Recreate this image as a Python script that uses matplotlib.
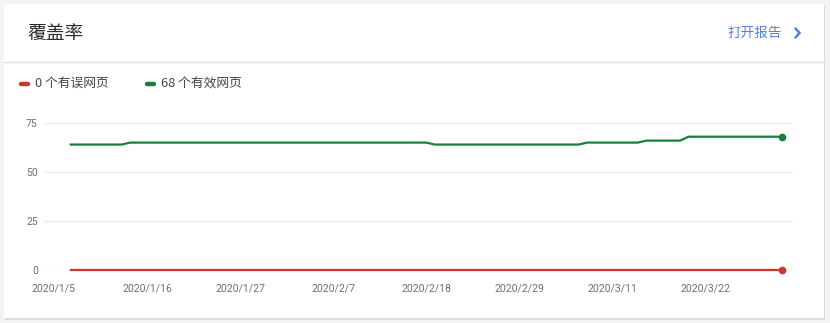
import matplotlib
matplotlib.use("Agg")
import matplotlib.pyplot as plt
import matplotlib.dates as mdates
from matplotlib.patches import Rectangle
from matplotlib.lines import Line2D
import datetime as dt

# ---- data ----
title = "覆盖率"
link_text = "打开报告"
legend_labels = ["0 个有误网页", "68 个有效网页"]
valid_dates = ["2020-01-07", "2020-01-13", "2020-01-14", "2020-02-18", "2020-02-19",
               "2020-03-07", "2020-03-08", "2020-03-14", "2020-03-15", "2020-03-19",
               "2020-03-20", "2020-03-31"]
valid_values = [64, 64, 65, 65, 64, 64, 65, 65, 66, 66, 68, 68]
error_dates = ["2020-01-07", "2020-03-31"]
error_values = [0, 0]
tick_dates = ["2020-01-05", "2020-01-16", "2020-01-27", "2020-02-07",
              "2020-02-18", "2020-02-29", "2020-03-11", "2020-03-22"]
tick_labels = ["2020/1/5", "2020/1/16", "2020/1/27", "2020/2/7",
               "2020/2/18", "2020/2/29", "2020/3/11", "2020/3/22"]
y_ticks = [0, 25, 50, 75]

RED = "#c9372c"
GREEN = "#18803c"
W, H = 830, 323

def to_dt(s):
    return dt.datetime.strptime(s, "%Y-%m-%d")

fig = plt.figure(figsize=(W / 100, H / 100), dpi=100, facecolor="#f3f3f3")

def fx(x):
    return x / W

def fy(y):
    return 1 - y / H

# card
fig.patches.append(Rectangle((fx(5), fy(320)), (825 - 5) / W, (320 - 5) / H,
                             transform=fig.transFigure, facecolor="#dcdcdc",
                             edgecolor="none", zorder=-3))
fig.patches.append(Rectangle((fx(4), fy(318)), (824 - 4) / W, (318 - 4) / H,
                             transform=fig.transFigure, facecolor="white",
                             edgecolor="none", zorder=-2))
# header separator
fig.lines.append(Line2D([fx(4), fx(824)], [fy(61.5), fy(61.5)], transform=fig.transFigure,
                        color="#dedede", lw=1.0, zorder=-1))

cjk = ["Noto Sans CJK SC", "DejaVu Sans"]
fig.text(fx(27), fy(33), title, family=cjk, fontsize=13.5, color="#2a2a2a",
         va="center", ha="left")
fig.text(fx(727), fy(33), link_text, family=cjk, fontsize=9.8, color="#4f82d8",
         va="center", ha="left")
# chevron
fig.lines.append(Line2D([fx(795.5), fx(799.5), fx(795.5)], [fy(28.5), fy(33), fy(37.5)],
                        transform=fig.transFigure, color="#4f82d8", lw=1.8,
                        solid_capstyle="round", solid_joinstyle="miter"))

# legend
for (x0, col, lab) in [(19, RED, legend_labels[0]), (145, GREEN, legend_labels[1])]:
    fig.lines.append(Line2D([fx(x0 + 1.5), fx(x0 + 8.5)], [fy(84), fy(84)],
                            transform=fig.transFigure, color=col, lw=3.2,
                            solid_capstyle="round"))
    fig.text(fx(x0 + 16), fy(84), lab, family=cjk, fontsize=9.2, color="#444444",
             va="center", ha="left")

# axes: 0 at y=270, 75 at y=123 ; x from 44 to 792
ax = fig.add_axes([fx(44), fy(270), (792 - 44) / W, (270 - 123) / H])
ax.set_zorder(2)
ax.set_facecolor("none")
base = mdates.date2num(to_dt("2020-01-05"))
ax.set_xlim(base - 1.18, base + 87.23)
ax.set_ylim(0, 75)

for v in y_ticks[1:]:
    ax.axhline(v, color="#ebebeb", lw=0.8, zorder=1, clip_on=False)
ax.axhline(0, color="#a0a0a0", lw=0.8, zorder=1)

ed = [to_dt(s) for s in error_dates]
vd = [to_dt(s) for s in valid_dates]
ax.plot(vd, valid_values, color=GREEN, lw=1.6, zorder=3, clip_on=False,
        marker="o", markevery=[len(vd) - 1], markersize=4.5)
ax.plot(ed, error_values, color=RED, lw=1.6, zorder=4, clip_on=False,
        marker="o", markevery=[len(ed) - 1], markersize=4.5)

for s in ax.spines.values():
    s.set_visible(False)
ax.set_xticks([to_dt(s) for s in tick_dates])
ax.set_xticklabels(tick_labels)
ax.set_yticks(y_ticks)
ax.set_yticklabels([str(v) for v in y_ticks])
ax.tick_params(axis="both", length=0, colors="#707070", labelsize=7.6)
ax.tick_params(axis="x", pad=10)
ax.tick_params(axis="y", pad=4.5)
for lab in ax.get_xticklabels() + ax.get_yticklabels():
    lab.set_family("Roboto")

fig.savefig("out.png", dpi=100, facecolor=fig.get_facecolor())
